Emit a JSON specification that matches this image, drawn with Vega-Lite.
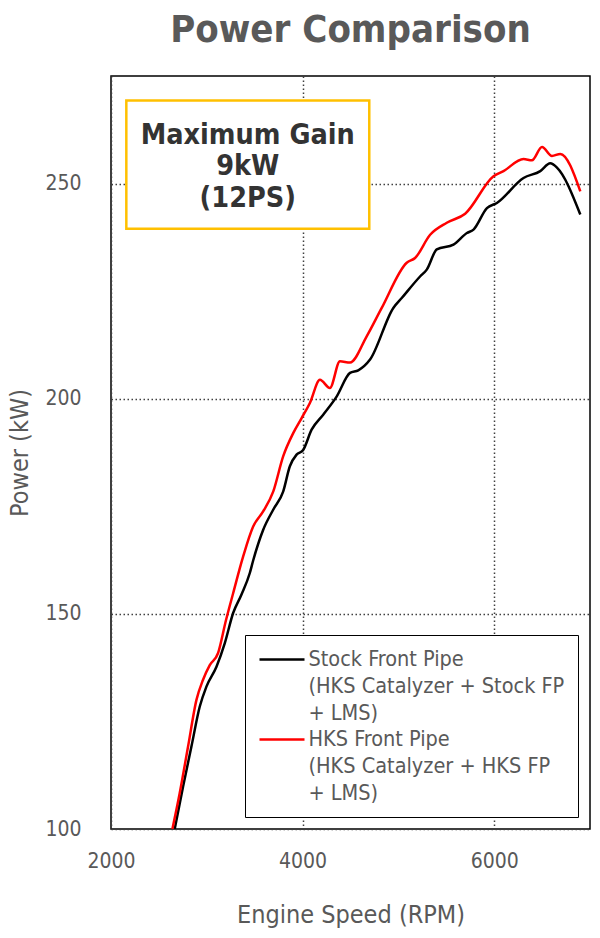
{
  "$schema": "https://vega.github.io/schema/vega-lite/v6.json",
  "width": 479,
  "height": 753,
  "autosize": {"type": "none"},
  "padding": {"left": 111, "top": 76, "right": 10, "bottom": 109},
  "title": {
    "text": "Power Comparison",
    "fontSize": 38,
    "fontWeight": "bold",
    "color": "#595959",
    "anchor": "middle",
    "frame": "group",
    "baseline": "alphabetic",
    "offset": -4
  },
  "datasets": {
    "power": [
      {"rpm": 2665, "kw": 100, "series": "Stock Front Pipe"},
      {"rpm": 2752, "kw": 109.8, "series": "Stock Front Pipe"},
      {"rpm": 2839, "kw": 119.1, "series": "Stock Front Pipe"},
      {"rpm": 2926, "kw": 128.4, "series": "Stock Front Pipe"},
      {"rpm": 2996, "kw": 133.1, "series": "Stock Front Pipe"},
      {"rpm": 3101, "kw": 137.7, "series": "Stock Front Pipe"},
      {"rpm": 3188, "kw": 143.2, "series": "Stock Front Pipe"},
      {"rpm": 3275, "kw": 150.2, "series": "Stock Front Pipe"},
      {"rpm": 3360, "kw": 154.4, "series": "Stock Front Pipe"},
      {"rpm": 3449, "kw": 159.5, "series": "Stock Front Pipe"},
      {"rpm": 3484, "kw": 162.4, "series": "Stock Front Pipe"},
      {"rpm": 3588, "kw": 169.5, "series": "Stock Front Pipe"},
      {"rpm": 3693, "kw": 174.2, "series": "Stock Front Pipe"},
      {"rpm": 3797, "kw": 178.4, "series": "Stock Front Pipe"},
      {"rpm": 3867, "kw": 184.3, "series": "Stock Front Pipe"},
      {"rpm": 3937, "kw": 187.0, "series": "Stock Front Pipe"},
      {"rpm": 4006, "kw": 188.1, "series": "Stock Front Pipe"},
      {"rpm": 4094, "kw": 192.8, "series": "Stock Front Pipe"},
      {"rpm": 4215, "kw": 196.3, "series": "Stock Front Pipe"},
      {"rpm": 4355, "kw": 200.5, "series": "Stock Front Pipe"},
      {"rpm": 4495, "kw": 206.0, "series": "Stock Front Pipe"},
      {"rpm": 4581, "kw": 206.6, "series": "Stock Front Pipe"},
      {"rpm": 4704, "kw": 209.1, "series": "Stock Front Pipe"},
      {"rpm": 4947, "kw": 221.1, "series": "Stock Front Pipe"},
      {"rpm": 5035, "kw": 223.4, "series": "Stock Front Pipe"},
      {"rpm": 5226, "kw": 228.4, "series": "Stock Front Pipe"},
      {"rpm": 5296, "kw": 230.0, "series": "Stock Front Pipe"},
      {"rpm": 5401, "kw": 234.7, "series": "Stock Front Pipe"},
      {"rpm": 5575, "kw": 235.8, "series": "Stock Front Pipe"},
      {"rpm": 5715, "kw": 238.5, "series": "Stock Front Pipe"},
      {"rpm": 5784, "kw": 239.3, "series": "Stock Front Pipe"},
      {"rpm": 5924, "kw": 244.3, "series": "Stock Front Pipe"},
      {"rpm": 6028, "kw": 245.5, "series": "Stock Front Pipe"},
      {"rpm": 6306, "kw": 251.3, "series": "Stock Front Pipe"},
      {"rpm": 6481, "kw": 252.9, "series": "Stock Front Pipe"},
      {"rpm": 6585, "kw": 254.7, "series": "Stock Front Pipe"},
      {"rpm": 6655, "kw": 253.7, "series": "Stock Front Pipe"},
      {"rpm": 6899, "kw": 242.8, "series": "Stock Front Pipe"},
      {"rpm": 2641, "kw": 100, "series": "HKS Front Pipe"},
      {"rpm": 2717, "kw": 108.3, "series": "HKS Front Pipe"},
      {"rpm": 2804, "kw": 119.1, "series": "HKS Front Pipe"},
      {"rpm": 2892, "kw": 130.0, "series": "HKS Front Pipe"},
      {"rpm": 2961, "kw": 134.7, "series": "HKS Front Pipe"},
      {"rpm": 3031, "kw": 138.1, "series": "HKS Front Pipe"},
      {"rpm": 3118, "kw": 140.9, "series": "HKS Front Pipe"},
      {"rpm": 3200, "kw": 148.5, "series": "HKS Front Pipe"},
      {"rpm": 3275, "kw": 154.8, "series": "HKS Front Pipe"},
      {"rpm": 3379, "kw": 163.3, "series": "HKS Front Pipe"},
      {"rpm": 3484, "kw": 170.3, "series": "HKS Front Pipe"},
      {"rpm": 3588, "kw": 173.8, "series": "HKS Front Pipe"},
      {"rpm": 3693, "kw": 178.4, "series": "HKS Front Pipe"},
      {"rpm": 3797, "kw": 186.6, "series": "HKS Front Pipe"},
      {"rpm": 3902, "kw": 192.0, "series": "HKS Front Pipe"},
      {"rpm": 3990, "kw": 195.5, "series": "HKS Front Pipe"},
      {"rpm": 4076, "kw": 199.0, "series": "HKS Front Pipe"},
      {"rpm": 4181, "kw": 204.4, "series": "HKS Front Pipe"},
      {"rpm": 4285, "kw": 202.5, "series": "HKS Front Pipe"},
      {"rpm": 4390, "kw": 208.7, "series": "HKS Front Pipe"},
      {"rpm": 4495, "kw": 208.4, "series": "HKS Front Pipe"},
      {"rpm": 4669, "kw": 214.5, "series": "HKS Front Pipe"},
      {"rpm": 4826, "kw": 221.1, "series": "HKS Front Pipe"},
      {"rpm": 5087, "kw": 231.6, "series": "HKS Front Pipe"},
      {"rpm": 5174, "kw": 232.7, "series": "HKS Front Pipe"},
      {"rpm": 5331, "kw": 238.1, "series": "HKS Front Pipe"},
      {"rpm": 5505, "kw": 240.9, "series": "HKS Front Pipe"},
      {"rpm": 5697, "kw": 243.0, "series": "HKS Front Pipe"},
      {"rpm": 5993, "kw": 251.7, "series": "HKS Front Pipe"},
      {"rpm": 6097, "kw": 252.9, "series": "HKS Front Pipe"},
      {"rpm": 6306, "kw": 255.7, "series": "HKS Front Pipe"},
      {"rpm": 6394, "kw": 255.4, "series": "HKS Front Pipe"},
      {"rpm": 6499, "kw": 258.5, "series": "HKS Front Pipe"},
      {"rpm": 6603, "kw": 256.4, "series": "HKS Front Pipe"},
      {"rpm": 6690, "kw": 256.9, "series": "HKS Front Pipe"},
      {"rpm": 6899, "kw": 248.2, "series": "HKS Front Pipe"}
    ],
    "box": [
      {"rpm": 2160, "rpm2": 4696, "kw": 239.5, "kw2": 269.3}
    ],
    "note": [
      {"rpm": 3428, "kw": 261.4, "label": "Maximum Gain"},
      {"rpm": 3428, "kw": 254.0, "label": "9kW"},
      {"rpm": 3428, "kw": 246.7, "label": "(12PS)"}
    ]
  },
  "encoding": {
    "x": {
      "field": "rpm",
      "type": "quantitative",
      "title": "Engine Speed (RPM)",
      "scale": {"domain": [2000, 7000], "nice": false, "zero": false},
      "axis": {"values": [2000, 4000, 6000], "format": "d", "labelFlush": false, "labelPadding": 21, "titlePadding": 31}
    },
    "y": {
      "field": "kw",
      "type": "quantitative",
      "title": "Power (kW)",
      "scale": {"domain": [100, 275], "nice": false, "zero": false},
      "axis": {"values": [100, 150, 200, 250], "labelFlush": false, "labelPadding": 30, "titlePadding": 12}
    }
  },
  "layer": [
    {
      "data": {"name": "box"},
      "mark": {"type": "rect", "fill": "white", "stroke": "#FFC000", "strokeWidth": 2.5},
      "encoding": {
        "x2": {"field": "rpm2"},
        "y2": {"field": "kw2"}
      }
    },
    {
      "data": {"name": "note"},
      "mark": {"type": "text", "fontSize": 28.5, "fontWeight": "bold", "color": "#333333", "align": "center", "baseline": "middle"},
      "encoding": {
        "text": {"field": "label"}
      }
    },
    {
      "data": {"name": "power"},
      "mark": {"type": "line", "interpolate": "monotone", "strokeWidth": 2.5, "clip": true},
      "encoding": {
        "color": {
          "field": "series",
          "type": "nominal",
          "scale": {"domain": ["Stock Front Pipe", "HKS Front Pipe"], "range": ["#000000", "#FF0000"]},
          "legend": {
            "title": null,
            "orient": "none",
            "legendX": 134,
            "legendY": 559,
            "padding": 13,
            "strokeColor": "#000000",
            "fillColor": "#FFFFFF",
            "symbolType": "M-2.25,0H2.25",
            "symbolSize": 400,
            "symbolStrokeWidth": 2.5,
            "symbolOffset": 12.5,
            "labelOffset": 15,
            "rowPadding": 4,
            "labelFontSize": 21.5,
            "labelColor": "#595959",
            "labelLimit": 0,
            "labelExpr": "datum.label == 'Stock Front Pipe' ? ['Stock Front Pipe', '(HKS Catalyzer + Stock FP', '+ LMS)'] : ['HKS Front Pipe', '(HKS Catalyzer + HKS FP', '+ LMS)']"
          }
        }
      }
    }
  ],
  "config": {
    "font": "DejaVu Sans Condensed, DejaVu Sans",
    "view": {"stroke": "#000000", "strokeWidth": 1.5},
    "style": {"guide-label": {"lineHeight": 27}},
    "axis": {
      "domain": false,
      "ticks": false,
      "grid": true,
      "gridColor": "#404040",
      "gridDash": [1.5, 2.5],
      "gridWidth": 1.5,
      "gridOpacity": 1,
      "labelFontSize": 21,
      "labelColor": "#595959",
      "titleFontSize": 25,
      "titleFontWeight": "normal",
      "titleColor": "#595959"
    }
  }
}
